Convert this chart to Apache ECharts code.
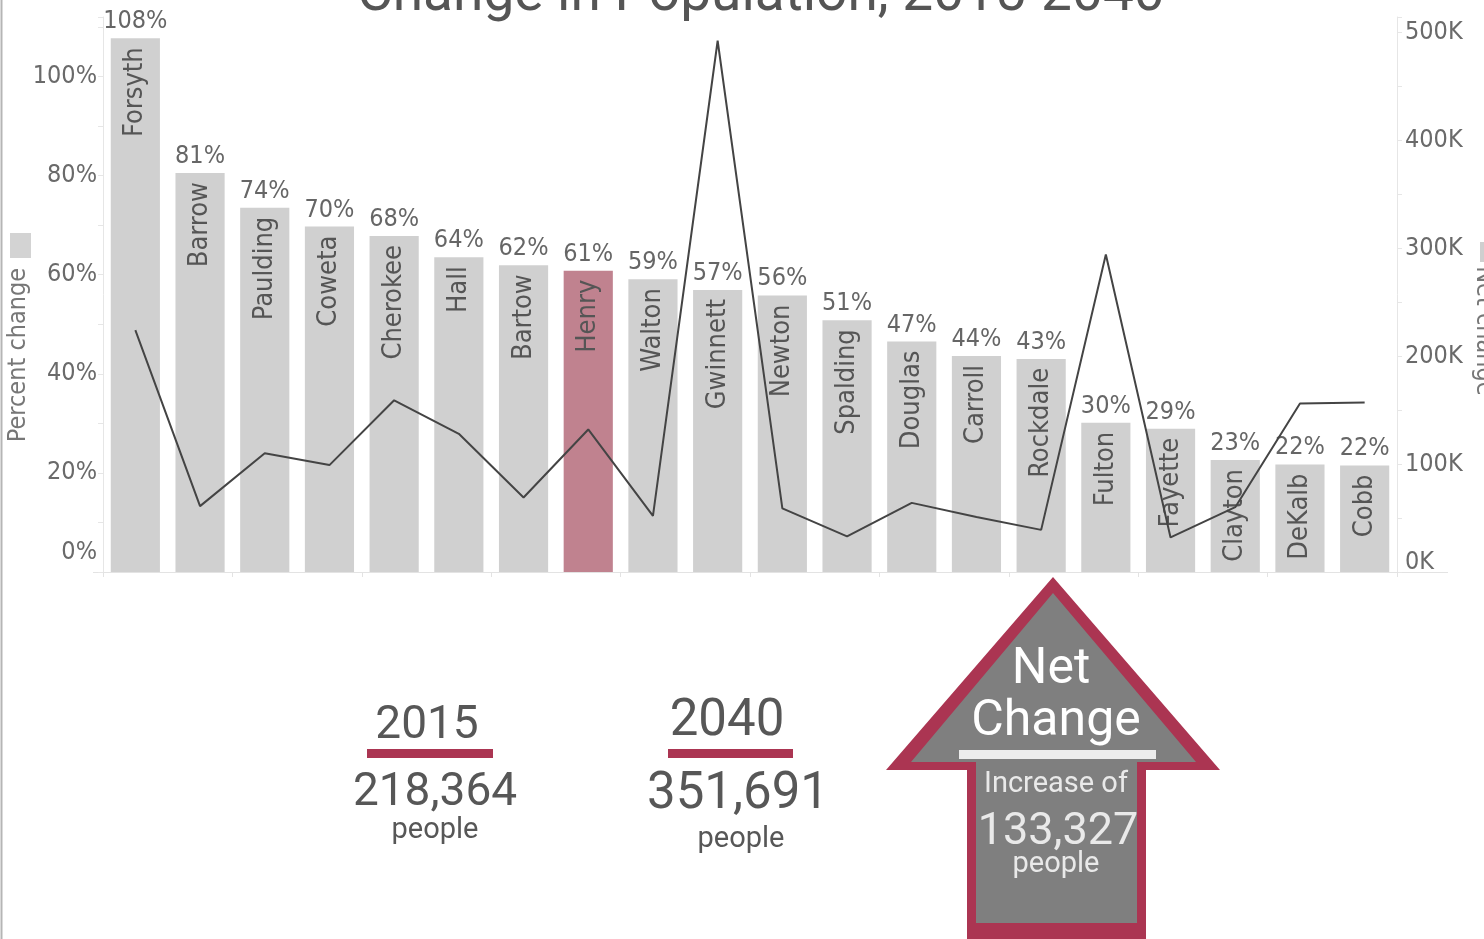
<!DOCTYPE html>
<html>
<head>
<meta charset="utf-8">
<title>Change in Population, 2015-2040</title>
<script src="https://cdn.jsdelivr.net/npm/echarts@6/dist/echarts.min.js"></script>
<style>
html, body { margin: 0; padding: 0; background: #fff; }
#chart { width: 1484px; height: 939px; }
</style>
</head>
<body>
<div id="chart"></div>
<script>
// counties, sorted by percent change 2015-2040
var counties = ['Forsyth', 'Barrow', 'Paulding', 'Coweta', 'Cherokee', 'Hall', 'Bartow', 'Henry', 'Walton', 'Gwinnett',
    'Newton', 'Spalding', 'Douglas', 'Carroll', 'Rockdale', 'Fulton', 'Fayette', 'Clayton', 'DeKalb', 'Cobb'];
var percentChange = [1.077, 0.805, 0.735, 0.697, 0.678, 0.635, 0.619, 0.608, 0.591, 0.569,
    0.558, 0.508, 0.465, 0.436, 0.430, 0.301, 0.289, 0.226, 0.217, 0.215];
var netChange = [224000, 61000, 110000, 99000, 159000, 128000, 69000, 132000, 52000, 492000,
    59000, 33000, 64000, 51000, 39000, 294000, 32000, 60000, 156000, 157000];
var highlightCounty = 'Henry';

var percentLabelStep = 0.2;     // labelled ticks on the left axis
var netLabelStep = 100000;      // labelled ticks on the right axis

var summaryYears = ['2015', '2040'];
var summaryTotals = ['218,364', '351,691'];
var netIncrease = '133,327';

var NARROW = '"Liberation Sans Narrow", "DejaVu Sans Condensed", "Roboto", sans-serif';
var DIN = 'Roboto, "Noto Sans", sans-serif';
var GREY_TEXT = '#575757';
var RED = '#ab3552';

var chart = echarts.init(document.getElementById('chart'));

var barData = percentChange.map(function (v, i) {
    if (counties[i] === highlightCounty) {
        return { value: v, itemStyle: { color: '#c0828f' } };
    }
    return v;
});

function pctLabel(v) {
    var p = Math.round(v * 100);
    if (p > 100 || p % Math.round(percentLabelStep * 100) !== 0) return '';
    if (p === 0) return '{z|0%}';
    return p + '%';
}

function netLabel(v) {
    if (v > 500000 || v % netLabelStep !== 0) return '';
    if (v === 0) return '{z|0K}';
    return (v / 1000) + 'K';
}

function text(x, y, str, size, color, extra) {
    var style = {
        text: str, x: x, y: y, fill: color, fontSize: size,
        fontFamily: DIN, fontWeight: 'normal', align: 'center', verticalAlign: 'middle'
    };
    for (var k in extra) style[k] = extra[k];
    return { type: 'text', style: style, z: 20 };
}

var graphics = [
    // left frame edge
    { type: 'line', shape: { x1: 1.5, y1: 0, x2: 1.5, y2: 939 }, style: { stroke: '#b5b5b5', lineWidth: 2 } },
    // baseline extension
    { type: 'line', shape: { x1: 93, y1: 572.5, x2: 1448, y2: 572.5 }, style: { stroke: '#e3e3e3', lineWidth: 1 } },
    // axis titles with legend swatches
    { type: 'rect', shape: { x: 10, y: 233, width: 21, height: 25 }, style: { fill: '#d3d3d3' } },
    { type: 'text', rotation: Math.PI / 2, x: 18, y: 355,
        style: { text: 'Percent change', x: 0, y: 0, fill: '#777', fontSize: 25, fontFamily: NARROW, align: 'center', verticalAlign: 'middle' } },
    { type: 'rect', shape: { x: 1480, y: 242, width: 10, height: 20 }, style: { fill: '#cfcfcf' } },
    { type: 'text', rotation: -Math.PI / 2, x: 1483, y: 331,
        style: { text: 'Net change', x: 0, y: 0, fill: '#777', fontSize: 25, fontFamily: NARROW, align: 'center', verticalAlign: 'middle' } },

    // 2015 block
    text(427, 726, summaryYears[0], 46, GREY_TEXT),
    { type: 'rect', shape: { x: 367, y: 749, width: 126, height: 9 }, style: { fill: RED } },
    text(435, 793, summaryTotals[0], 46, GREY_TEXT),
    text(435, 831, 'people', 29, GREY_TEXT),

    // 2040 block
    text(727, 722, summaryYears[1], 51, GREY_TEXT),
    { type: 'rect', shape: { x: 668, y: 749, width: 125, height: 9 }, style: { fill: RED } },
    text(738, 795, summaryTotals[1], 51, GREY_TEXT),
    text(741, 840, 'people', 29, GREY_TEXT),

    // net change arrow
    { type: 'polygon', shape: { points: [[1053, 577], [886, 770], [967, 770], [967, 939], [1146, 939], [1146, 770], [1220, 770]] },
        style: { fill: RED }, z: 10 },
    { type: 'polygon', shape: { points: [[1053, 593], [911, 762], [976, 762], [976, 923], [1137, 923], [1137, 762], [1196, 762]] },
        style: { fill: '#7f7f7f' }, z: 11 },
    { type: 'rect', shape: { x: 959, y: 750, width: 197, height: 9 }, style: { fill: '#ececec' }, z: 12 },
    text(1051, 670, 'Net', 50, '#ffffff'),
    text(1056, 722, 'Change', 50, '#ffffff'),
    text(1056, 785, 'Increase of', 29, '#e9e9e9'),
    text(1058, 833, netIncrease, 45, '#e9e9e9'),
    text(1056, 865, 'people', 29, '#e9e9e9')
];

var option = {
    backgroundColor: '#ffffff',
    animation: false,
    title: {
        text: 'Change in Population, 2015-2040',
        left: 357,
        top: -31,
        padding: 0,
        textStyle: { fontFamily: DIN, fontSize: 55, fontWeight: 'normal', color: '#555' }
    },
    grid: { left: 103, right: 87, top: 17, bottom: 367, containLabel: false },
    xAxis: {
        type: 'category',
        data: counties,
        axisLine: { lineStyle: { color: '#e3e3e3' } },
        axisTick: { show: true, length: 5, lineStyle: { color: '#e3e3e3' } },
        axisLabel: { show: false }
    },
    yAxis: [
        {
            type: 'value', position: 'left', min: 0, max: 1.12, interval: 0.1,
            splitLine: { show: false },
            axisLine: { show: true, lineStyle: { color: '#e6e6e6' } },
            axisTick: { show: true, length: 5, lineStyle: { color: '#e6e6e6' } },
            axisLabel: {
                formatter: pctLabel, fontSize: 25, color: '#6a6a6a', fontFamily: NARROW, margin: 6,
                rich: { z: { fontSize: 25, color: '#6a6a6a', fontFamily: NARROW, padding: [0, 0, 40, 0] } }
            }
        },
        {
            type: 'value', position: 'right', min: 0, max: 514000, interval: 50000,
            splitLine: { show: false },
            axisLine: { show: true, lineStyle: { color: '#e6e6e6' } },
            axisTick: { show: true, length: 5, lineStyle: { color: '#e6e6e6' } },
            axisLabel: {
                formatter: netLabel, fontSize: 25, color: '#6a6a6a', fontFamily: NARROW, margin: 8,
                rich: { z: { fontSize: 25, color: '#6a6a6a', fontFamily: NARROW, padding: [0, 0, 20, 0] } }
            }
        }
    ],
    series: [
        {
            name: 'Percent change',
            type: 'bar',
            data: barData,
            barCategoryGap: '24%',
            itemStyle: { color: '#d0d0d0' },
            label: {
                show: true, position: 'insideTop', rotate: 90, align: 'right', verticalAlign: 'middle',
                distance: 9, formatter: function (p) { return p.name; },
                fontSize: 27, color: '#555', fontFamily: NARROW
            },
            z: 2
        },
        {
            name: 'Percent label',
            type: 'bar',
            data: percentChange,
            barGap: '-100%',
            barCategoryGap: '24%',
            silent: true,
            itemStyle: { color: 'rgba(0,0,0,0)' },
            label: {
                show: true, position: 'top', distance: 4,
                formatter: function (p) { return Math.round(p.value * 100) + '%'; },
                fontSize: 25, color: '#666', fontFamily: NARROW
            },
            z: 3
        },
        {
            name: 'Net change',
            type: 'line',
            yAxisIndex: 1,
            data: netChange,
            symbol: 'none',
            lineStyle: { color: '#444', width: 2 },
            z: 5
        }
    ],
    graphic: graphics
};

chart.setOption(option);
</script>
</body>
</html>
